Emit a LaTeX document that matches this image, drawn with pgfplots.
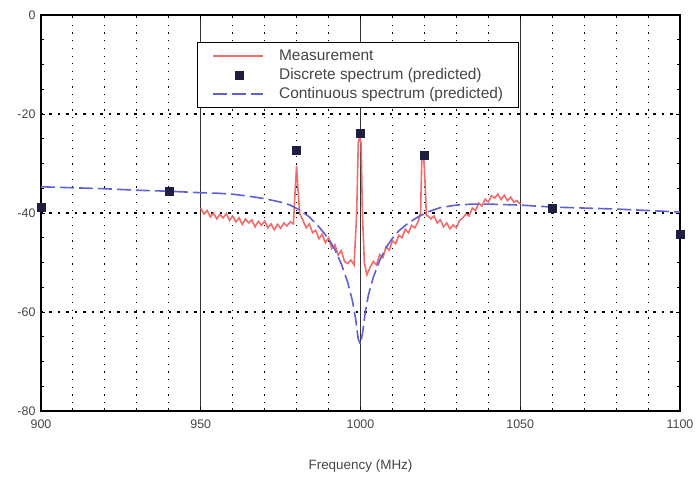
\documentclass[border=0pt]{standalone}
\usepackage{fontspec}
\setmainfont{Liberation Sans}
\usepackage{pgfplots}
\pgfplotsset{compat=1.18}
\definecolor{meas}{RGB}{242,108,108}
\definecolor{cont}{RGB}{95,95,215}
\definecolor{disc}{RGB}{30,30,65}
\definecolor{labelgray}{RGB}{70,70,70}
\pgfplotsset{
  lineleg/.style={legend image code/.code={\draw[##1] (0bp,0bp) -- (50bp,0bp);}},
  markleg/.style={legend image code/.code={\draw[##1] plot coordinates {(26bp,0bp)};}},
}
\begin{document}
\begin{tikzpicture}
\useasboundingbox (-41bp,-67bp) rectangle (655bp,411bp);
\begin{axis}[
  scale only axis, width=639bp, height=396bp,
  at={(0,0)}, anchor=south west,
  xmin=900, xmax=1100, ymin=-80, ymax=0,
  xtick={900,950,...,1100}, ytick={-80,-60,...,0},
  minor x tick num=4, minor y tick num=3,
  xmajorgrids, ymajorgrids, xminorgrids,
  major x grid style={black!80, line width=0.7bp},
  minor x grid style={black, line width=1.1bp, dash pattern=on 1.2bp off 6.5bp},
  major y grid style={black, line width=1.1bp, dash pattern=on 2.5bp off 6bp},
  axis line style={black, line width=1.6bp},
  tick style={black, line width=1bp},
  major tick length=4bp, minor tick length=3bp,
  tick align=inside,
  /pgf/number format/assume math mode=true,
  /pgf/number format/set thousands separator={},
  tick label style={font=\fontsize{12.5}{14}\selectfont, text=labelgray},
  xticklabel style={yshift=-5bp},
  yticklabel style={xshift=-2bp},
  xlabel={Frequency (MHz)},
  xlabel style={font=\fontsize{13.5}{15}\selectfont, text=labelgray,
    at={(axis description cs:0.5,-0.14)}, anchor=center},
  legend style={at={(0.244,0.932)}, anchor=north west, draw=black,
    line width=1.2bp, font=\fontsize{15.5}{17}\selectfont, text=labelgray,
    inner xsep=15bp, inner ysep=4bp, row sep=0bp, column sep=15bp,
    nodes={inner xsep=0bp, inner ysep=2.5bp, text height=11bp, text depth=3bp},
    cells={anchor=west}},
]
% measured spectrum
\addplot[meas, line width=1.6bp, no marks, lineleg]
  coordinates {
  (950,-39.0) (951,-40.2) (952,-39.5) (953,-40.8) (954,-40.0) (955,-41.2)
  (956,-40.3) (957,-41.0) (958,-40.1) (959,-41.5) (960,-40.6) (961,-41.8)
  (962,-41.0) (963,-42.3) (964,-41.2) (965,-42.0) (966,-41.4) (967,-42.8)
  (968,-41.7) (969,-42.5) (970,-41.6) (971,-43.0) (972,-42.2) (973,-43.4)
  (974,-42.3) (975,-43.1) (976,-42.0) (977,-42.6) (978,-41.8) (979,-42.2)
  (979.5,-36) (980,-30.5) (980.5,-36) (981,-40.2) (982,-41.5) (983,-43.0)
  (984,-42.2) (985,-44.0) (986,-43.5) (987,-45.2) (988,-44.3) (989,-46.0)
  (990,-45.0) (991,-47.2) (992,-46.4) (993,-48.5) (994,-47.6) (995,-49.8)
  (996,-50.2) (997,-49.5) (998,-50.5) (998.8,-40) (999.3,-26) (999.7,-24.5)
  (1000.2,-26) (1000.6,-40) (1001.2,-50) (1002,-52.5) (1003,-51.0)
  (1004,-49.8) (1005,-50.5) (1006,-48.4) (1007,-49.0) (1008,-46.8)
  (1009,-47.5) (1010,-45.6) (1011,-46.2) (1012,-44.5) (1013,-45.0)
  (1014,-43.3) (1015,-44.0) (1016,-42.5) (1017,-43.0) (1018,-41.8)
  (1018.8,-40) (1019.2,-29) (1019.8,-28.8) (1020.3,-35) (1020.6,-40.5)
  (1021,-40.5) (1022,-41.2) (1023,-40.6) (1024,-42.0) (1025,-41.4)
  (1026,-42.8) (1027,-42.0) (1028,-43.2) (1029,-42.4) (1030,-43.0)
  (1031,-41.5) (1032,-41.0) (1033,-40.2) (1034,-40.6) (1035,-39.0)
  (1036,-39.5) (1037,-38.0) (1038,-38.6) (1039,-37.2) (1040,-37.8)
  (1041,-36.5) (1042,-37.0) (1043,-36.2) (1044,-37.3) (1045,-36.4)
  (1046,-37.5) (1047,-36.8) (1048,-37.8) (1049,-37.5) (1050,-38.2)
  };
\addlegendentry{Measurement}
% predicted discrete lines
\addplot[only marks, mark=square*, mark size=4bp,
  mark options={draw=disc, fill=disc, line width=0.6bp}, markleg]
  coordinates {
  (900,-38.8) (940,-35.7) (980,-27.3) (1000,-23.8) (1020,-28.3)
  (1060,-39.1) (1100,-44.4)
  };
\addlegendentry{Discrete spectrum (predicted)}
% predicted continuous part
\addplot[cont, line width=1.6bp, no marks, dash pattern=on 14bp off 5bp, lineleg]
  coordinates {
  (900,-34.7) (910,-34.9) (920,-35.1) (930,-35.4) (940,-35.6) (950,-35.9)
  (955,-36.0) (960,-36.2) (965,-36.6) (970,-37.1) (975,-37.8) (978,-38.4)
  (981,-39.4) (984,-40.8) (987,-42.8) (990,-45.2) (992,-47.4) (994,-50.3)
  (996,-54.0) (997.5,-57.8) (998.5,-61.5) (999.3,-65.5) (1000,-66.5)
  (1000.7,-64) (1001.5,-60) (1002.5,-56.5) (1004,-53) (1006,-49.6)
  (1008,-47) (1010,-45.1) (1012,-43.6) (1015,-42.0) (1018,-40.8)
  (1021,-39.8) (1025,-38.9) (1030,-38.4) (1035,-38.2) (1040,-38.2)
  (1045,-38.3) (1050,-38.4) (1060,-38.8) (1070,-39.0) (1080,-39.2)
  (1090,-39.5) (1100,-39.8)
  };
\addlegendentry{Continuous spectrum (predicted)}
\end{axis}
\end{tikzpicture}
\end{document}
